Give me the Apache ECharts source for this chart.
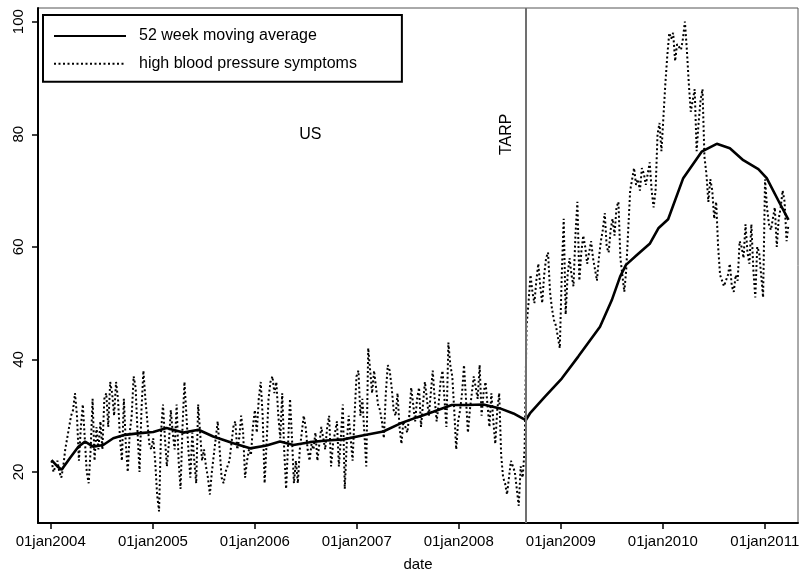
<!DOCTYPE html>
<html>
<head>
<meta charset="utf-8">
<script src="https://cdn.jsdelivr.net/npm/echarts@6/dist/echarts.min.js"></script>
<style>
html,body{margin:0;padding:0;background:#fff;}
#chart{width:801px;height:575px;}
</style>
</head>
<body>
<div id="chart"></div>
<script>
// ---- Data (weekly, first week starting 2004-01-04) ----
const firstWeek = '2004-01-04';
const symptoms2004 = [22,20,21,22,20,19,21,24,26,28, 30,31,34,30,22,28,32,26,20,18, 24,33,22,28,24,29,24,33,34,28, 36,34,30,36,33,26,22,33,25,20, 27,30,37,35,27,20,31,38,33,29, 25,24];
const symptoms2005 = [26,22,16,13,27,32,26,21,25,31, 27,24,32,22,17,28,36,30,24,19, 27,22,18,32,27,22,24,21,19,16, 20,23,26,29,24,19,18,20,21,22, 25,28,29,24,26,30,27,19,22,24, 23,28];
const symptoms2006 = [31,27,33,36,30,18,25,33,36,37, 34,36,30,26,34,24,17,25,33,26, 18,22,18,24,27,30,28,24,22,25, 24,27,22,25,28,26,24,28,30,21, 25,27,29,21,26,32,17,25,30,26, 22,30];
const symptoms2007 = [37,38,30,33,27,21,42,38,34,38, 35,32,31,29,26,34,39,38,35,31, 30,34,28,25,29,28,27,30,35,32, 29,33,35,28,32,36,33,30,34,38, 33,29,32,36,38,33,28,43,39,37, 31,24];
const symptoms2008 = [29,31,34,39,33,27,31,34,37,35, 33,39,30,34,36,32,28,34,29,25, 31,34,23,19,18,16,19,22,21,20, 17,14,21,19,24,46,50,55,52,50, 54,57,53,50,55,58,59,52,49,47, 46,44];
const symptoms2009 = [42,55,65,48,55,58,55,53,62,68, 54,59,62,60,57,59,61,58,56,54, 58,61,63,66,60,59,63,65,62,67, 68,58,55,52,56,63,70,72,74,71, 72,70,74,73,71,73,75,70,67,70, 80,82];
const symptoms2010 = [77,83,89,94,98,97,98,93,96,96, 95,97,100,95,89,84,86,88,77,82, 86,88,76,73,68,72,70,65,68,60, 55,54,53,53,55,57,53,52,55,54, 61,60,58,64,59,57,64,56,51,60, 59,55];
const symptoms2011 = [51,72,67,64,63,65,67,60,65,67,70,68,61,64];

const maDates = ['2004-01-04','2004-01-25','2004-02-09','2004-03-10','2004-04-09','2004-05-03','2004-06-01','2004-07-07','2004-08-12','2004-09-23','2004-11-16','2005-01-02','2005-02-19','2005-04-20','2005-06-13','2005-08-05','2005-10-16','2005-12-15','2006-02-12','2006-04-01','2006-05-19','2006-07-17','2006-09-15','2006-11-14','2007-01-12','2007-04-06','2007-06-05','2007-08-04','2007-10-02','2007-12-07','2008-01-30','2008-03-29','2008-05-28','2008-07-15','2008-08-28','2008-09-12','2008-11-05','2009-01-04','2009-03-04','2009-05-21','2009-07-02','2009-08-01','2009-08-22','2009-09-29','2009-11-16','2009-12-16','2010-01-20','2010-03-15','2010-05-20','2010-07-13','2010-08-29','2010-10-16','2010-12-09','2011-01-08','2011-02-24','2011-03-27'];
const maValues = [22.1,21.0,20.4,22.5,24.5,25.4,24.5,24.8,26.0,26.6,26.9,27.1,27.8,27.0,27.5,26.3,25.1,24.2,24.7,25.4,24.8,25.3,25.6,25.8,26.4,27.2,28.6,29.7,30.7,31.9,31.9,32.0,31.3,30.4,29.2,30.4,33.4,36.6,40.5,45.8,50.5,54.7,56.8,58.5,60.6,63.3,64.9,72.2,76.9,78.3,77.5,75.4,73.8,72.2,67.7,64.8];

const tickDates = ['2004-01-01','2005-01-01','2006-01-01','2007-01-01','2008-01-01','2009-01-01','2010-01-01','2011-01-01'];
const tickLabels = ['01jan2004','01jan2005','01jan2006','01jan2007','01jan2008','01jan2009','01jan2010','01jan2011'];
const yTicks = [20,40,60,80,100];

const tarpDate = '2008-08-28';
const notes = [
  {text:'US', date:'2006-07-19', value:80, rotate:0},
  {text:'TARP', date:'2008-06-22', value:80, rotate:90}
];

// ---- helpers ----
function utc(s){ const p = s.split('-').map(Number); return Date.UTC(p[0], p[1]-1, p[2]); }
const DAY = 864e5;
const allSymptoms = [].concat(symptoms2004, symptoms2005, symptoms2006, symptoms2007, symptoms2008, symptoms2009, symptoms2010, symptoms2011);
const t0 = utc(firstWeek);
const symptomsData = allSymptoms.map((v,i)=>[t0 + i*7*DAY, v]);
const maData = maDates.map((d,i)=>[utc(d), maValues[i]]);
const tickTimes = tickDates.map(utc);

const FONT = '"Liberation Sans", Arial, Helvetica, sans-serif';

const chart = echarts.init(document.getElementById('chart'), null, {renderer:'canvas'});
chart.setOption({
  animation: false,
  backgroundColor: '#fff',
  textStyle: {fontFamily: FONT, color:'#000'},
  grid: {left: 38, right: 3, top: 8, bottom: 52, show: true, borderColor: '#555', borderWidth: 1,
         backgroundColor: 'transparent', containLabel: false, outerBoundsMode: 'none'},
  legend: {
    orient: 'vertical', left: 43, top: 15,
    padding: [13, 45, 10, 10],
    itemWidth: 72, itemHeight: 14, itemGap: 11.7,
    borderColor: '#000', borderWidth: 2, backgroundColor: '#fff',
    data: ['52 week moving average', 'high blood pressure symptoms'],
    itemStyle: {color: 'rgba(0,0,0,0)', borderWidth: 0, opacity: 0},
    textStyle: {fontSize: 16, fontFamily: FONT, color: '#000', padding: [0,0,0,8]},
    selectedMode: false
  },
  xAxis: {
    type: 'value',
    min: utc('2003-11-16') + DAY/2,
    max: utc('2011-04-30'),
    name: 'date', nameLocation: 'middle', nameGap: 34,
    nameTextStyle: {fontSize: 15, fontFamily: FONT, color: '#000'},
    axisLine: {show: true, onZero: false, lineStyle: {color: '#000', width: 2}},
    axisTick: {show: true, length: 6, lineStyle: {color: '#000', width: 1.5}, customValues: tickTimes},
    axisLabel: {fontSize: 15, fontFamily: FONT, color: '#000', margin: 11, customValues: tickTimes,
      formatter: function(v){ const i = tickTimes.indexOf(v); return i >= 0 ? tickLabels[i] : ''; }},
    splitLine: {show: false}
  },
  yAxis: {
    type: 'value', min: 10.94, max: 102.43,
    axisLine: {show: true, onZero: false, lineStyle: {color: '#000', width: 2}},
    axisTick: {show: true, length: 6, lineStyle: {color: '#000', width: 1.5}, customValues: yTicks},
    axisLabel: {fontSize: 15, fontFamily: FONT, color: '#000', rotate: 90, margin: 12, customValues: yTicks},
    splitLine: {show: false}
  },
  series: [
    {
      name: 'high blood pressure symptoms', type: 'line', data: symptomsData,
      symbol: 'none', showSymbol: false, z: 2,
      lineStyle: {color: '#000', width: 2, type: [2, 2.5]},
      itemStyle: {color: '#000'},
      markLine: {
        silent: true, symbol: ['none','none'], label: {show: false},
        lineStyle: {color: '#707070', width: 2, type: 'solid'},
        data: [{xAxis: utc(tarpDate)}]
      },
      markPoint: {
        silent: true, symbol: 'circle', symbolSize: 0,
        data: notes.map(n => ({coord: [utc(n.date), n.value], name: n.text,
          label: {show: true, formatter: n.text, rotate: n.rotate, fontSize: 16, fontFamily: FONT, color: '#000', position: 'inside'}}))
      }
    },
    {
      name: '52 week moving average', type: 'line', data: maData,
      symbol: 'none', showSymbol: false, z: 3,
      lineStyle: {color: '#000', width: 2.6, type: 'solid'},
      itemStyle: {color: '#000'}
    }
  ]
});
</script>
</body>
</html>
